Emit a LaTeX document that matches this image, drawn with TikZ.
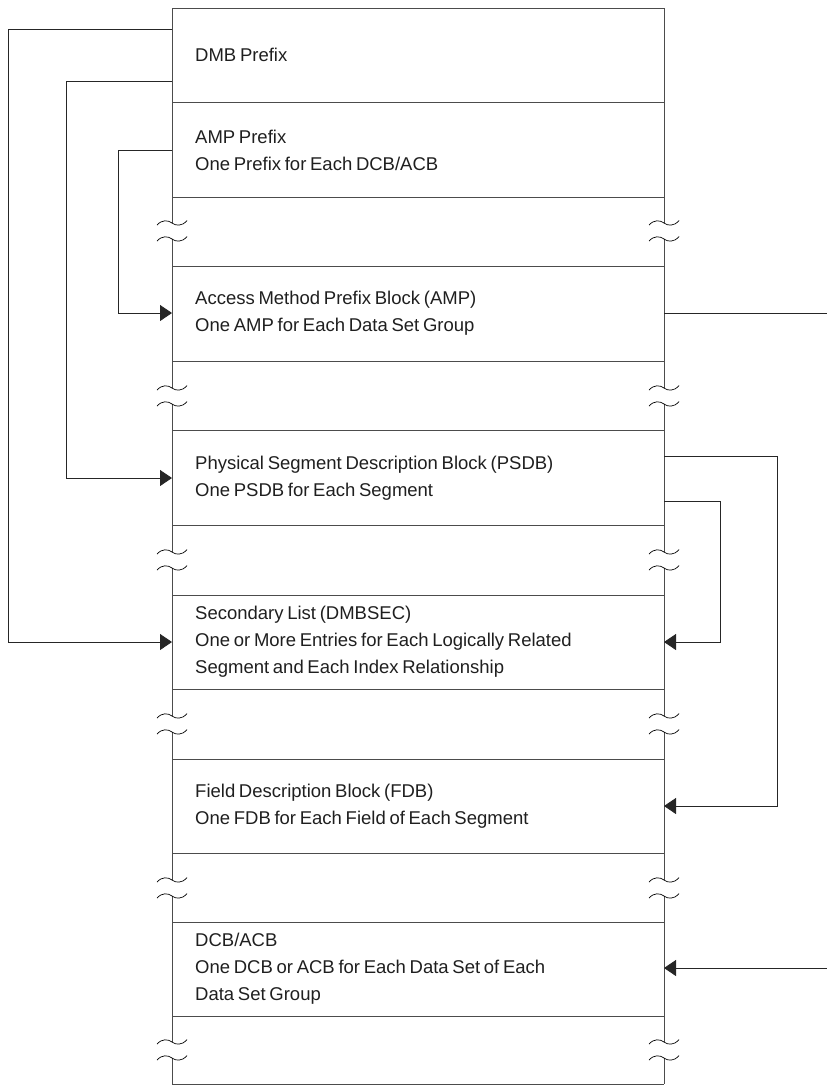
\documentclass[tikz,border=0pt]{standalone}
\usepackage{fontspec}
\setmainfont{Liberation Sans}[WordSpace=0.72]
\usetikzlibrary{arrows.meta}

\begin{document}
\begin{tikzpicture}[x=1pt,y=-1pt,
  frame/.style={line width=0.9pt, draw=black!70},
  wire/.style={line width=0.9pt, draw=black!85},
  feed/.style={wire, -{Triangle[length=12pt,width=16pt]}},
  label/.style={anchor=west, inner sep=0pt, align=left,
    font=\fontsize{18.5}{27}\selectfont, text=black!88},
  wave/.pic={\draw[line width=0.7pt, black]
    (-15,2) .. controls (-10,-3.5) and (-4,-3) .. (0,0)
            .. controls (4,3) and (10,3.5) .. (15,-2.5);}]

  \useasboundingbox (0,0) rectangle (827,1085);

  % horizontal rules of the control block stack
  \foreach \y in {8,102,197,266,361,430,525,595,689,759,853,922,1016,1084}
    \draw[frame] (172,\y) -- (664,\y);

  % side edges, interrupted at each break mark
  \foreach \a/\b in {8/223,239/388,404/552,568/716,732/880,896/1042,1058/1084} {
    \draw[frame] (172,\a) -- (172,\b);
    \draw[frame] (664,\a) -- (664,\b);
  }

  % break marks
  \foreach \y in {223,239,388,404,552,568,716,732,880,896,1042,1058} {
    \pic at (172,\y) {wave};
    \pic at (664,\y) {wave};
  }

  % block contents
  \node[label] (dmb)  at (195,55)  {DMB Prefix};
  \node[label] (ampp) at (195,150) {AMP Prefix\\One Prefix for Each DCB/ACB};
  \node[label] (amp)  at (195,313) {Access Method Prefix Block (AMP)\\One AMP for Each Data Set Group};
  \node[label] (psdb) at (195,478) {Physical Segment Description Block (PSDB)\\One PSDB for Each Segment};
  \node[label] (sec)  at (195,642) {Secondary List (DMBSEC)\\One or More Entries for Each Logically Related\\Segment and Each Index Relationship};
  \node[label] (fdb)  at (195,806) {Field Description Block (FDB)\\One FDB for Each Field of Each Segment};
  \node[label] (dcb)  at (195,969) {DCB/ACB\\One DCB or ACB for Each Data Set of Each\\Data Set Group};

  % connection points on the left edge
  \coordinate (dmbA)  at (172,29);
  \coordinate (dmbB)  at (172,81);
  \coordinate (amppA) at (172,150);
  \coordinate (ampL)  at (172,313);
  \coordinate (psdbL) at (172,478);
  \coordinate (secL)  at (172,642);

  % connection points on the right edge
  \coordinate (ampR)   at (664,313);
  \coordinate (ampOut) at (827,313);
  \coordinate (psdbR1) at (664,456);
  \coordinate (psdbR2) at (664,501);
  \coordinate (secR)   at (664,642);
  \coordinate (fdbR)   at (664,806);
  \coordinate (dcbR)   at (664,968);
  \coordinate (dcbIn)  at (827,968);

  % pointers out of the prefixes
  \draw[feed] (dmbA)  -- ++(-164,0) |- (secL);
  \draw[feed] (dmbB)  -- ++(-106,0) |- (psdbL);
  \draw[feed] (amppA) -- ++(-54,0)  |- (ampL);

  % pointers out of the AMP and PSDB
  \draw[wire] (ampR) -- (ampOut);
  \draw[feed] (psdbR1) -- ++(113,0) |- (fdbR);
  \draw[feed] (psdbR2) -- ++(56,0)  |- (secR);
  \draw[feed] (dcbIn) -- (dcbR);
\end{tikzpicture}
\end{document}
